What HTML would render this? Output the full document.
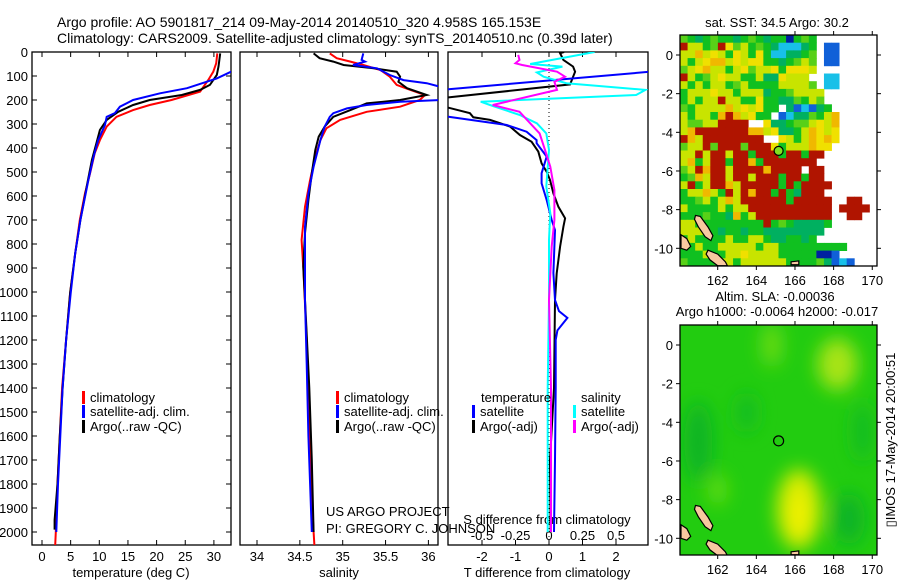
<!DOCTYPE html>
<html><head><meta charset="utf-8"><style>
html,body{margin:0;padding:0;background:#fff;}
svg{display:block;font-family:"Liberation Sans",sans-serif;}
text{fill:#000;}
</style></head><body>
<svg id="fig" width="900" height="580" viewBox="0 0 900 580" xmlns="http://www.w3.org/2000/svg">
<defs>
<clipPath id="c1"><rect x="32" y="52" width="199" height="493"/></clipPath>
<clipPath id="c2"><rect x="240" y="52" width="198" height="493"/></clipPath>
<clipPath id="c3"><rect x="448" y="52" width="200" height="493"/></clipPath>
<clipPath id="cm1"><rect x="680" y="35" width="197" height="231"/></clipPath>
<clipPath id="cm2"><rect x="680" y="325" width="197" height="230"/></clipPath>
<filter id="blur" x="-50%" y="-50%" width="200%" height="200%"><feGaussianBlur stdDeviation="9"/></filter>
</defs>
<text x="57" y="27" font-size="14">Argo profile: AO 5901817_214 09-May-2014 20140510_320 4.958S 165.153E</text>
<text x="57" y="43" font-size="14">Climatology: CARS2009. Satellite-adjusted climatology: synTS_20140510.nc (0.39d later)</text>
<g id="panels"></g>
<g id="maps"></g>
<text transform="translate(895,440) rotate(-90)" text-anchor="middle" font-size="13">▯IMOS 17-May-2014 20:00:51</text>
</svg>
<script>
// ---------- data ----------
const depthTicks=[0,100,200,300,400,500,600,700,800,900,1000,1100,1200,1300,1400,1500,1600,1700,1800,1900,2000];
const tempTicks=[0,5,10,15,20,25,30];
const salTicks=[34,34.5,35,35.5,36];
const salTickLabels=["34","34.5","35","35.5","36"];
const tdiffTicks=[-2,-1,0,1,2];
const sdiffTicks=[-0.5,-0.25,0,0.25,0.5];
const sdiffTickLabels=["-0.5","-0.25","0","0.25","0.5"];

const tClimDepth=[6,47,82,117,165,200,221,242,270,311,367,422,505,589,700,839,1005,1200,1400,1600,1800,2000,2055];
const tClimVal=[30.6,30.4,29.9,29.0,27.6,22.6,18.8,15.9,13.0,11.3,10.1,9.2,8.4,7.5,6.6,5.8,4.9,4.2,3.5,3.1,2.7,2.4,2.3];
const tSatDepth=[0,60,82,110,124,151,172,200,228,255,270,304,367,436,533,700,839,1005,1200,1400,1600,1800,2000];
const tSatVal=[36,34,33,30.5,28.7,25.3,20.6,15.9,13.6,12.7,11.3,11.0,9.8,9.0,8.1,6.7,5.8,5.0,4.2,3.6,3.2,2.8,2.5];
const tArgoDepth=[6,61,96,137,158,179,200,221,249,283,325,380,450,561,700,839,1005,1200,1400,1600,1800,1950,1990];
const tArgoVal=[31.1,30.8,30.5,29.3,27.6,24.4,18.8,15.9,13.3,11.3,10.1,9.5,8.7,7.8,6.7,5.8,4.9,4.2,3.6,3.1,2.7,2.2,2.2];

const sClimDepth=[6,26,40,54,75,103,137,158,179,200,228,249,283,318,367,436,533,645,783,900,1200,1500,1800,2000,2055];
const sClimVal=[34.85,34.93,35.09,35.24,35.44,35.55,35.63,35.79,35.96,35.9,35.67,35.28,34.97,34.81,34.74,34.68,34.62,34.56,34.52,34.54,34.58,34.6,34.63,34.66,34.67];
const sSatDepth=[6,33,40,54,68,96,117,130,144,150,195,200,207,221,235,255,270,311,367,478,589,728,1033,1300,1600,1800,2000];
const sSatVal=[35.24,35.22,35.26,35.12,35.4,35.55,35.71,35.98,36.13,36.4,36.4,36.13,35.67,35.28,35.05,34.89,34.85,34.79,34.74,34.66,34.6,34.56,34.56,34.58,34.6,34.62,34.64];
const sArgoDepth=[6,26,40,54,68,82,103,124,151,179,200,214,242,270,311,353,408,505,617,755,894,1100,1400,1700,2000];
const sArgoVal=[34.66,34.73,34.89,35.01,35.36,35.63,35.67,35.65,35.75,35.98,35.67,35.28,35.09,34.89,34.79,34.72,34.68,34.64,34.6,34.56,34.54,34.57,34.61,34.64,34.66];

const dTSatDepth=[0,80,155,162,262,270,304,332,367,380,436,505,547,617,700,742,921,1033,1080,1108,1160,1200,1400,1700,2000];
const dTSatVal=[4,3.2,-3,-4,-4,-3,-1.26,-0.67,-0.37,-0.37,-0.07,-0.22,-0.22,-0.07,0.08,0.18,0.13,0.18,0.3,0.55,0.25,0.2,0.2,0.18,0.15];
const dTArgoDepth=[0,5,33,61,82,103,135,189,195,228,232,255,272,283,311,346,374,415,464,499,533,589,645,693,728,811,922,1033,1400,1700,2000];
const dTArgoVal=[0.45,0.33,0.43,0.72,0.78,0.72,0.63,-3,-4,-4,-3,-2.36,-2.26,-1.76,-1.16,-0.87,-0.52,-0.32,-0.22,-0.07,0.03,0.13,0.28,0.48,0.43,0.33,0.23,0.18,0.15,0.03,0.05];
const dSSatDepth=[0,50,61,85,103,130,158,179,207,221,262,297,339,408,561,671,783,1033,1400,2000];
const dSSatVal=[0.34,-0.14,0.10,-0.09,-0.04,0.13,0.72,0.65,-0.51,-0.44,-0.22,-0.09,-0.02,0,-0.02,0.01,0,0,-0.01,-0.01];
const dSArgoDepth=[12,33,47,54,82,103,124,158,221,249,297,339,408,478,575,700,811,1033,1400,2000];
const dSArgoVal=[-0.23,-0.22,-0.25,-0.2,0.06,0.12,0.04,0.06,-0.42,-0.22,-0.14,-0.07,-0.03,0.01,0.04,0.04,0.02,0,0.015,0.015];

const lonTicks=[162,164,166,168,170];
const latTicks=[0,-2,-4,-6,-8,-10];
const sstGrid=[
"gGTGgGGTGgGTGGNGgG........",
"RyyGgRYgyGgGTCCCTG.BB.....",
"yyOyYyGYyGYGCCTTGg.BB.....",
"yGyYOOyYyYYGGTGgyg.BB.....",
"gyYOyyGyYgyyYGYYYy........",
"RyGgyYyyGGyTTYyyy..CC.....",
"yGyGyyGgyGGGGyyyyg.CC.....",
"GyyyYyyGyyyTGGgyyyy.......",
"GyGyyRyyGGYGGTTgGyg.......",
"gGyyyyOyYyYGG.TBCBTG......",
"yGyyGOROyYGG.BCTTgGyO.....",
"yggyyRRRR..YTTGggyYyO.....",
"yORRRRRRROOyYTTGyOYyY.....",
"ROyRRRRRRRR..YyGyOYOY.....",
"gyyRgRRRgRRRYGyyyOYY......",
"yyRyRRyRRGRRRGRRGRR.......",
"yOGyRRGRROGRRRRRRR........",
"gyRORRyRRRRORRRR.RR.......",
"GgOyRRyRRyRRRGRRGRR.......",
"yRGyRROyRRRRRGRGRRRR......",
"GyyOyGRyRORRGRGTRRR.......",
"GGgyGyOyRRRRRRGRRRRR..RR..",
"yGGGGyGyyRRRRRRRRRRR.RRRR.",
"GGGgGGTOGyRRRRRRRRRR..RR..",
"yyGGGGGGGGGRGgGTTTTG......",
"yyyGGTGGTGGTTTTTTTT.......",
"GyGGGGyGGyyGTTGGTG........",
"GGyGGyyyyyGyyGGGGGGGGG....",
"GGGyGGyyYyyyyGGGGGNNB.....",
"gGGGGyyGyyyyyyGGGGgTBCB..."
];
const sstColors={G:"#10c020",g:"#58d018",T:"#00b060",y:"#c8e400",Y:"#f0e000",O:"#f0b800",R:"#b01400",C:"#18c0e8",B:"#1060d8",N:"#0020a0"};
const argoLon=165.153, argoLat=-4.958;

// ---------- helpers ----------
const NS="http://www.w3.org/2000/svg";
const fig=document.getElementById('fig');
const panels=document.getElementById('panels');
const maps=document.getElementById('maps');
function mk(tag,attrs,parent){const e=document.createElementNS(NS,tag);for(const k in attrs)e.setAttribute(k,attrs[k]);(parent||fig).appendChild(e);return e;}
const Y0=52,Y1=545;
function yD(d){return 52+d*0.24;}
function xT(t){return 42+t*5.73;}
function xS(s){return 257+(s-34)*85.7;}
function xDT(v){return 549+v*33.5;}
function xDS(v){return 549+v*134;}
function line(xs,ds,fx,color,clip,name,w){
  const pts=xs.map((v,i)=>fx(v).toFixed(1)+","+yD(ds[i]).toFixed(1)).join(" ");
  const p=mk('polyline',{points:pts,fill:"none",stroke:color,"stroke-width":w||2,"clip-path":"url(#"+clip+")"},panels);
  
  
}
function box(x0,x1,name){
  const r=mk('rect',{x:x0,y:Y0,width:x1-x0,height:Y1-Y0,fill:"none",stroke:"#000","stroke-width":1.3},panels);
  
  
}
function txt(x,y,s,size,anchor,name,parent){
  const t=mk('text',{x:x,y:y,"font-size":size,"text-anchor":anchor||"start"},parent||panels);
  t.textContent=s;
  
  
  return t;
}
function tick(x1,y1,x2,y2,p){mk('line',{x1:x1,y1:y1,x2:x2,y2:y2,stroke:"#000","stroke-width":1},p||panels);}

// ---------- panel 1: temperature ----------
box(32,231,'temperature-panel');
depthTicks.forEach(d=>{const y=yD(d);tick(32,y,37,y);tick(231,y,226,y);
  txt(28,y+5,String(d),13,"end",'depth-tick-label');});
tempTicks.forEach(t=>{const x=xT(t);tick(x,Y1,x,Y1-5);tick(x,Y0,x,Y0+5);
  txt(x,561,String(t),13,"middle",'temperature-tick-label');});
txt(131,577,"temperature (deg C)",13,"middle",'temperature-axis-title');
line(tClimVal,tClimDepth,xT,"#f00","c1",'temperature-climatology-line');
line(tArgoVal,tArgoDepth,xT,"#000","c1",'temperature-argo-line');
line(tSatVal,tSatDepth,xT,"#00f","c1",'temperature-satellite-line');

// ---------- panel 2: salinity ----------
box(240,438,'salinity-panel');
salTicks.forEach((s,i)=>{const x=xS(s);tick(x,Y1,x,Y1-5);tick(x,Y0,x,Y0+5);
  txt(x,561,salTickLabels[i],13,"middle",'salinity-tick-label');});
txt(339,577,"salinity",13,"middle",'salinity-axis-title');
line(sClimVal,sClimDepth,xS,"#f00","c2",'salinity-climatology-line');
line(sArgoVal,sArgoDepth,xS,"#000","c2",'salinity-argo-line');
line(sSatVal,sSatDepth,xS,"#00f","c2",'salinity-satellite-line');

// ---------- panel 3: differences ----------
box(448,648,'difference-panel');
tdiffTicks.forEach(t=>{const x=xDT(t);tick(x,Y1,x,Y1-5);
  txt(x,561,String(t),13,"middle",'t-difference-tick-label');});
sdiffTicks.forEach((s,i)=>{const x=xDS(s);tick(x,Y0,x,Y0+5);
  txt(x,540,sdiffTickLabels[i],13,"middle",'s-difference-tick-label');});
mk('line',{x1:549,y1:Y0,x2:549,y2:Y1,stroke:"#000","stroke-width":1,"stroke-dasharray":"1,3"},panels);
txt(547,524,"S difference from climatology",13,"middle",'s-difference-axis-title');
txt(547,577,"T difference from climatology",13,"middle",'t-difference-axis-title');
line(dTArgoVal,dTArgoDepth,xDT,"#000","c3",'t-diff-argo-line');
line(dTSatVal,dTSatDepth,xDT,"#00f","c3",'t-diff-satellite-line');
line(dSSatVal,dSSatDepth,xDS,"#0ff","c3",'s-diff-satellite-line');
line(dSArgoVal,dSArgoDepth,xDS,"#f0f","c3",'s-diff-argo-line');

// ---------- legends ----------
function legend(x,y,color,label,name){
  const r=mk('rect',{x:x,y:y-11,width:3,height:13,fill:color},panels);
  
  
  txt(x+8,y,label,13,"start",name);
}
legend(82,402,"#f00","climatology",'legend-temp-climatology');
legend(82,416,"#00f","satellite-adj. clim.",'legend-temp-satellite');
legend(82,431,"#000","Argo(..raw -QC)",'legend-temp-argo');
legend(336,402,"#f00","climatology",'legend-sal-climatology');
legend(336,416,"#00f","satellite-adj. clim.",'legend-sal-satellite');
legend(336,431,"#000","Argo(..raw -QC)",'legend-sal-argo');
txt(481,402,"temperature",13,"start",'legend-temperature-heading');
txt(581,402,"salinity",13,"start",'legend-salinity-heading');
legend(472,416,"#00f","satellite",'legend-tdiff-satellite');
legend(472,431,"#000","Argo(-adj)",'legend-tdiff-argo');
legend(573,416,"#0ff","satellite",'legend-sdiff-satellite');
legend(573,431,"#f0f","Argo(-adj)",'legend-sdiff-argo');
txt(326,516,"US ARGO PROJECT",13,"start",'project-label');
txt(326,533,"PI: GREGORY C. JOHNSON",13,"start",'pi-label');

// ---------- maps ----------
function mLon(l){return 717.7+(l-162)*19.32;}
function m1Lat(l){return 55-l*19.33;}
function m2Lat(l){return 345-l*19.33;}
function mapAxes(yTop,yBot,latf,name){
  const r=mk('rect',{x:680,y:yTop,width:197,height:yBot-yTop,fill:"none",stroke:"#000","stroke-width":1.3},maps);
  
  
  lonTicks.forEach(l=>{const x=mLon(l);tick(x,yTop,x,yTop-4,maps);tick(x,yBot,x,yBot+4,maps);
    txt(x,yBot+19,String(l),13,"middle",'longitude-tick-label',maps);});
  latTicks.forEach(l=>{const y=latf(l);tick(680,y,676,y,maps);tick(877,y,881,y,maps);
    txt(673,y+5,String(l),13,"end",'latitude-tick-label',maps);});
}
function land(latf,clip){
  const isl=[
    [[160.85,-8.3],[161.1,-8.35],[161.5,-8.9],[161.75,-9.35],[161.65,-9.6],[161.35,-9.4],[161.0,-8.9],[160.8,-8.5]],
    [[161.5,-10.1],[162.0,-10.3],[162.4,-10.7],[162.5,-10.9],[162.0,-10.9],[161.6,-10.6],[161.4,-10.3]],
    [[160.1,-9.3],[160.4,-9.5],[160.6,-9.9],[160.4,-10.1],[160.1,-10.0]],
    [[165.8,-10.7],[166.2,-10.65],[166.2,-10.85],[165.8,-10.85]]
  ];
  isl.forEach(p=>{const pl=mk('polygon',{points:p.map(q=>mLon(q[0]).toFixed(1)+","+latf(q[1]).toFixed(1)).join(" "),
    fill:"#f8c8a0",stroke:"#000","stroke-width":1.2,"clip-path":"url(#"+clip+")"},maps);
    
    });
}
txt(777,27,"sat. SST: 34.5 Argo: 30.2",13,"middle",'sst-map-title',maps);
const cw=197/26, ch=231/30;
const sstLayer=mk('g',{"clip-path":"url(#cm1)"},maps);


sstGrid.forEach((row,r)=>{for(let c=0;c<row.length;c++){const k=row[c];if(sstColors[k])
  mk('rect',{x:(680+c*cw).toFixed(2),y:(35+r*ch).toFixed(2),width:(cw+0.4).toFixed(2),height:(ch+0.4).toFixed(2),fill:sstColors[k]},sstLayer);}});
land(m1Lat,"cm1");
mapAxes(35,266,m1Lat,'sst-map-frame');
const p1=mk('circle',{cx:mLon(argoLon),cy:m1Lat(argoLat),r:4.5,fill:"#80e020",stroke:"#000","stroke-width":1.2},maps);



txt(775,301,"Altim. SLA: -0.00036",13,"middle",'sla-map-title',maps);
txt(777,316,"Argo h1000: -0.0064 h2000: -0.017",13,"middle",'sla-map-subtitle',maps);
const sla=mk('g',{"clip-path":"url(#cm2)"},maps);


mk('rect',{x:680,y:325,width:197,height:230,fill:"#22cc10"},sla);
const blobs=mk('g',{filter:"url(#blur)"},sla);
[[166.2,-8.5,22,40,"#d8ec00"],[166.2,-8.8,12,22,"#eef000"],[168.2,-1,20,26,"#a8e418"],[164.8,0,10,22,"#6cdc14"],
 [161,-5,14,40,"#10b428"],[168.8,-9,16,26,"#10b428"],[163.5,-3.5,10,20,"#14bc20"],[169.5,-4.5,10,30,"#14bc20"],[162,-7.5,10,16,"#60dc10"]]
 .forEach(b=>mk('ellipse',{cx:mLon(b[0]),cy:m2Lat(b[1]),rx:b[2],ry:b[3],fill:b[4]},blobs));
land(m2Lat,"cm2");
mapAxes(325,555,m2Lat,'sla-map-frame');
const p2=mk('circle',{cx:mLon(argoLon),cy:m2Lat(argoLat),r:5,fill:"none",stroke:"#000","stroke-width":1.2},maps);


</script>
</body></html>
